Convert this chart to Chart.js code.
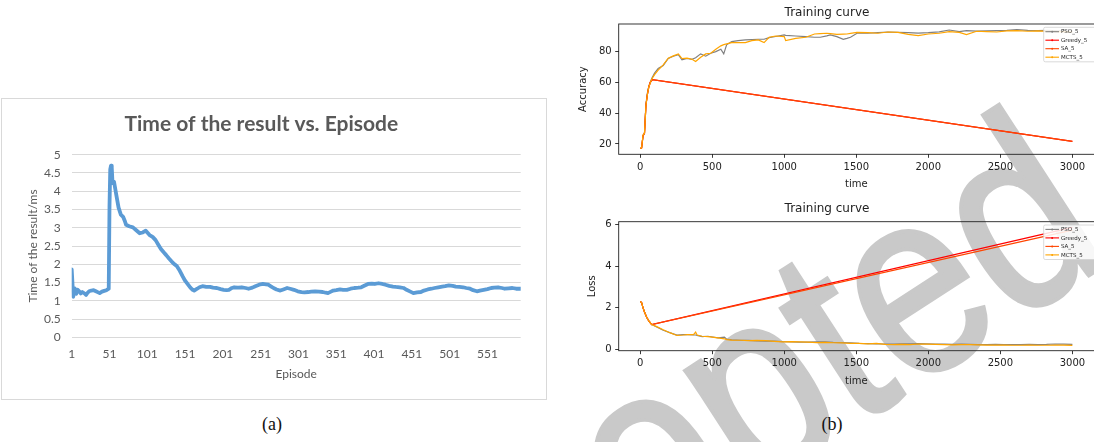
<!DOCTYPE html>
<html><head><meta charset="utf-8">
<script src="https://cdn.jsdelivr.net/npm/chart.js@4.4.0/dist/chart.umd.min.js"></script>
<style>
html,body{margin:0;padding:0;background:#fff;}
body{width:1094px;height:442px;position:relative;overflow:hidden;}
.abs{position:absolute;}
#boxA{left:1px;top:98px;width:544px;height:300px;border:1px solid #d9d9d9;box-sizing:content-box;z-index:1;}
canvas{z-index:2;}
#cA{left:2px;top:99px;}
#cB1{left:560px;top:0px;}
#cB2{left:560px;top:197px;}
.cap{font-family:"Liberation Serif",serif;font-size:18px;color:#111;top:414px;width:40px;text-align:center;z-index:2;}
#wm{left:207px;top:581px;font-family:"Liberation Sans",sans-serif;font-size:265px;line-height:1;white-space:nowrap;color:#c9c9c9;-webkit-text-stroke:4px #c9c9c9;transform:rotate(-33deg) scaleX(0.85);transform-origin:0 0;z-index:0;}
</style></head>
<body>
<div id="wm" class="abs">Accepted</div>
<div id="boxA" class="abs"></div>
<canvas id="cA" class="abs" width="543" height="299"></canvas>
<canvas id="cB1" class="abs" width="534" height="197"></canvas>
<canvas id="cB2" class="abs" width="534" height="198"></canvas>
<div class="abs cap" style="left:252px">(a)</div>
<div class="abs cap" style="left:812px">(b)</div>
<script>
// ---------- Panel (a) ----------
const titleA = "Time of the result vs. Episode";
const episodes = [1,3,5,7,9,11,13,15,18,20,22,24,27,30,33,36,38,41,44,47,50,51,52,53,54,55,57,60,63,66,69,71,73,77,82,86,91,95,99,104,108,112,116,119,123,126,130,133,137,140,144,148,151,155,158,161,163,167,170,174,179,184,188,193,198,202,206,209,213,216,221,226,231,235,240,244,249,254,258,261,265,268,272,277,281,286,290,295,300,305,309,314,318,323,328,333,337,340,344,347,351,356,360,365,370,375,380,384,388,393,398,402,407,412,416,421,426,430,435,440,444,449,453,458,463,467,472,477,481,486,491,495,500,505,509,514,519,523,528,532,537,541,546,551,556,560,565,570,574,579,584,589,595];
const timeMs = [1.86,1.11,1.34,1.19,1.3,1.26,1.2,1.24,1.2,1.16,1.22,1.26,1.28,1.29,1.26,1.23,1.21,1.25,1.27,1.29,1.33,3.58,4.6,4.7,4.65,4.22,4.26,3.9,3.55,3.36,3.3,3.2,3.08,3.04,3.01,2.94,2.85,2.87,2.92,2.8,2.75,2.66,2.52,2.42,2.32,2.25,2.15,2.08,2.0,1.95,1.82,1.66,1.55,1.44,1.36,1.3,1.28,1.33,1.37,1.4,1.38,1.38,1.36,1.35,1.32,1.3,1.29,1.3,1.35,1.37,1.36,1.37,1.35,1.33,1.36,1.4,1.44,1.46,1.45,1.44,1.39,1.35,1.31,1.28,1.31,1.35,1.33,1.3,1.26,1.24,1.23,1.24,1.25,1.26,1.25,1.24,1.22,1.21,1.25,1.28,1.29,1.31,1.3,1.3,1.33,1.35,1.36,1.37,1.41,1.46,1.47,1.46,1.48,1.46,1.44,1.41,1.39,1.38,1.37,1.35,1.3,1.25,1.21,1.23,1.24,1.28,1.31,1.33,1.35,1.37,1.39,1.4,1.42,1.41,1.39,1.38,1.37,1.35,1.33,1.29,1.26,1.28,1.3,1.32,1.35,1.36,1.37,1.35,1.33,1.34,1.35,1.33,1.33];
const episodeTicks = [1,51,101,151,201,251,301,351,401,451,501,551];

// ---------- Panel (b) top: accuracy ----------
const seriesNames = ["PSO_5","Greedy_5","SA_5","MCTS_5"];
const accTime = [1,10,20,30,40,50,60,70,80,100,125,160,195,230,265,290,325,360,385,420,455,490,525,560,580,600,635,680,730,775,820,860,895,940,1000,1010,1080,1150,1210,1250,1295,1320,1365,1410,1435,1460,1505,1580,1650,1720,1790,1860,1930,2000,2075,2145,2215,2265,2335,2405,2475,2545,2615,2690,2760,2830,2900,3000];
const psoAcc = [17,17.5,25,27,46,53,57.5,60,62.5,66,69,71,75.5,77,78,74.6,75.5,75,76,78.5,77,78.9,80,81.5,78.5,84.4,86.5,87.1,87.6,87.8,88,88,89,89.8,90.8,90.5,90.1,89.7,89.3,89.3,90.2,90.8,89.7,88,88.6,89.3,91.9,91.9,92.3,92.7,92.5,92.3,92,92.3,92.8,94,93,93.6,93.3,93.5,93.6,93.8,94.3,93.8,93.6,93.8,93.4,93.4];
const mctsAcc = [17,17.5,26,27,45,52,57,59.5,62,65,68,71.4,75.7,77.2,78.5,75.5,75.7,75,73.5,76.3,78.5,78.9,81.5,83.7,84.5,85,85.8,85.8,85.8,87.1,87.6,85.8,89.3,90.1,89.7,87.1,88.6,89.3,91.4,91.6,91.9,91.7,91.2,91.3,91.4,91.8,92.5,92.3,91.9,92.7,92.5,91.2,90.4,91.4,91.9,93,92.5,91,93.2,93,92.7,93.4,93.6,93.2,93.4,93.2,93,92.7];
const greedyAccTime = [1,10,20,30,40,50,60,70,85,3000];
const greedyAcc = [17,17.5,25.5,27,45,52,57,60,61.8,21.7];
const saAcc = [17,17.5,25.5,27,45,52,57,60,61.8,21.7];
const accTicks = [20,40,60,80];

// ---------- Panel (b) bottom: loss ----------
const lossTime = [1,10,20,30,45,60,80,115,160,210,255,300,330,370,385,395,430,470,540,585,600,635,700,750,810,870,930,990,1050,1105,1165,1225,1285,1340,1400,1460,1520,1580,1640,1700,1760,1815,1875,1930,1990,2050,2110,2170,2230,2290,2345,2405,2465,2525,2585,2640,2700,2760,2820,2880,2940,3000];
const psoLoss = [2.3,2.25,2.0,1.8,1.55,1.38,1.2,1.08,0.93,0.8,0.7,0.72,0.72,0.7,0.7,0.68,0.62,0.64,0.56,0.6,0.5,0.47,0.45,0.44,0.42,0.41,0.41,0.38,0.37,0.36,0.36,0.37,0.37,0.35,0.34,0.32,0.3,0.29,0.28,0.27,0.27,0.28,0.28,0.29,0.28,0.27,0.26,0.25,0.26,0.25,0.24,0.24,0.25,0.24,0.24,0.24,0.25,0.24,0.25,0.27,0.26,0.25];
const mctsLoss = [2.3,2.25,2.0,1.8,1.55,1.38,1.2,1.1,0.95,0.8,0.68,0.7,0.72,0.72,0.84,0.7,0.64,0.62,0.56,0.52,0.48,0.46,0.45,0.43,0.44,0.43,0.40,0.37,0.38,0.37,0.36,0.34,0.35,0.33,0.32,0.30,0.30,0.28,0.30,0.25,0.24,0.25,0.24,0.27,0.26,0.25,0.24,0.23,0.24,0.24,0.23,0.22,0.22,0.22,0.21,0.21,0.22,0.21,0.21,0.22,0.22,0.2];
const greedyLossTime = [1,10,20,30,45,60,80,3000];
const greedyLoss = [2.3,2.25,2.0,1.8,1.55,1.38,1.2,5.85];
const saLoss = [2.3,2.25,2.0,1.8,1.55,1.38,1.2,5.72];
const lossTicks = [0,2,4,6];
const timeTicks = [0,500,1000,1500,2000,2500,3000];

const seriesColors = ["#808080","#ff0000","#ff4500","#ffa500"];
const pts = (xs, ys) => xs.map((x,i)=>({x:x, y:ys[i]}));

// ---------- Chart (a) ----------
const gray = '#595959';
new Chart(document.getElementById('cA'), {
  type:'line',
  data:{datasets:[{data:pts(episodes,timeMs),borderColor:'#5B9BD5',borderWidth:3.8,pointRadius:0,tension:0,borderJoinStyle:'round',borderCapStyle:'round'}]},
  options:{
    responsive:false, animation:false,
    layout:{padding:{left:0,right:24.3,top:0,bottom:0}},
    plugins:{legend:{display:false},tooltip:{enabled:false},
      title:{display:true,text:titleA,color:gray,font:{family:'Lato',size:21,weight:'bold'},padding:{top:12.3,bottom:18.2}}},
    scales:{
      x:{type:'linear',min:1,max:595,
        afterBuildTicks:s=>{s.ticks=episodeTicks.map(v=>({value:v}));},
        afterFit:s=>{s.height=60.7;},
        grid:{display:false,drawTicks:false},border:{display:false},
        ticks:{color:gray,font:{family:'Lato',size:12},padding:9.8,maxRotation:0,autoSkip:false,callback:v=>String(v)},
        title:{display:true,text:'Episode',color:gray,font:{family:'Lato',size:12},padding:{top:0,bottom:16.8}}},
      y:{min:0,max:5,
        ticks:{stepSize:0.5,color:gray,font:{family:'Lato',size:12},padding:11,callback:v=>String(v)},
        afterFit:s=>{s.width=69.7;},
        grid:{color:'#d9d9d9',drawTicks:false,lineWidth:1},border:{display:false},
        title:{display:true,text:'Time of the result/ms',color:gray,font:{family:'Lato',size:12},padding:{top:24.1,bottom:0}}}
    }
  }
});

// ---------- helpers for (b) ----------
const frame = {id:'frame', afterDatasetsDraw(chart){const a=chart.chartArea,c=chart.ctx;c.save();c.strokeStyle='#222';c.lineWidth=0.9;c.strokeRect(a.left,a.top,a.right-a.left+2,a.bottom-a.top);c.restore();}};
const miniLegend = {id:'miniLegend', afterDraw(chart,args,o){
  const a=chart.chartArea,c=chart.ctx;
  const x0=a.right-50.3, y0=a.top+o.dy, w=52, h=34.5;
  c.save();
  c.fillStyle='rgba(255,255,255,0.85)';c.strokeStyle='#d0d0d0';c.lineWidth=0.8;
  c.beginPath();c.roundRect(x0,y0,w,h,1.5);c.fill();c.stroke();
  chart.data.datasets.forEach((ds,i)=>{
    const y=y0+4.4+i*8.5;
    c.strokeStyle=ds.borderColor;c.lineWidth=1.1;
    c.beginPath();c.moveTo(x0+1.7,y);c.lineTo(x0+15.3,y);c.stroke();
    c.fillStyle=ds.borderColor;c.beginPath();c.arc(x0+8.5,y,1,0,Math.PI*2);c.fill();
    c.fillStyle='#222';c.font='5.5px "DejaVu Sans"';c.textBaseline='middle';c.textAlign='left';
    c.fillText(ds.label,x0+17.3,y+0.3);
  });
  c.restore();
}};
const ds = (label,color,data,order)=>({label,data,borderColor:color,backgroundColor:color,borderWidth:1.2,pointRadius:0,tension:0,order});
const axisFont = {family:'DejaVu Sans',size:10};
const ink = '#222';
function bScales(yMin,yMax,yTicks,yLabel,yW,yTitlePad,xH,xTickPad,xTitlePad){
  return {
    x:{type:'linear',min:-149,max:3150,
      afterBuildTicks:s=>{s.ticks=timeTicks.map(v=>({value:v}));},
      afterFit:s=>{s.height=xH;},
      grid:{drawOnChartArea:false,drawTicks:true,tickLength:3.5,tickColor:ink,lineWidth:0.9},border:{display:false},
      ticks:{color:ink,font:axisFont,padding:xTickPad,maxRotation:0,autoSkip:false,callback:v=>String(v)},
      title:{display:true,text:'time',color:ink,font:axisFont,padding:{top:0,bottom:xTitlePad}}},
    y:{min:yMin,max:yMax,
      afterBuildTicks:s=>{s.ticks=yTicks.map(v=>({value:v}));},
      afterFit:s=>{s.width=yW;},
      grid:{drawOnChartArea:false,drawTicks:true,tickLength:3.5,tickColor:ink,lineWidth:0.9},border:{display:false},
      ticks:{color:ink,font:axisFont,padding:3.5,autoSkip:false,callback:v=>String(v)},
      title:{display:true,text:yLabel,color:ink,font:axisFont,padding:{top:yTitlePad,bottom:0}}}
  };
}

new Chart(document.getElementById('cB1'), {
  type:'line',
  data:{datasets:[
    ds(seriesNames[0],seriesColors[0],pts(accTime,psoAcc),4),
    ds(seriesNames[1],seriesColors[1],pts(greedyAccTime,greedyAcc),3),
    ds(seriesNames[2],seriesColors[2],pts(greedyAccTime,saAcc),2),
    ds(seriesNames[3],seriesColors[3],pts(accTime,mctsAcc),1)
  ]},
  options:{responsive:false,animation:false,
    layout:{padding:{left:0,right:0,top:0,bottom:0}},
    plugins:{legend:{display:false},tooltip:{enabled:false},miniLegend:{dy:3.3},
      title:{display:true,text:'Training curve',color:ink,font:{family:'DejaVu Sans',size:12,weight:'normal'},padding:{top:5.5,bottom:4.1}}},
    scales:bScales(13.3,97.9,accTicks,'Accuracy',58.7,17.3,42.7,4,6.7)
  },
  plugins:[frame,miniLegend]
});

new Chart(document.getElementById('cB2'), {
  type:'line',
  data:{datasets:[
    ds(seriesNames[0],seriesColors[0],pts(lossTime,psoLoss),4),
    ds(seriesNames[1],seriesColors[1],pts(greedyLossTime,greedyLoss),3),
    ds(seriesNames[2],seriesColors[2],pts(greedyLossTime,saLoss),2),
    ds(seriesNames[3],seriesColors[3],pts(lossTime,mctsLoss),1)
  ]},
  options:{responsive:false,animation:false,
    layout:{padding:{left:0,right:0,top:0,bottom:0}},
    plugins:{legend:{display:false},tooltip:{enabled:false},miniLegend:{dy:3.3},
      title:{display:true,text:'Training curve',color:ink,font:{family:'DejaVu Sans',size:12,weight:'normal'},padding:{top:4.8,bottom:5.5}}},
    scales:bScales(-0.05,6.12,lossTicks,'Loss',58.7,26.7,44.3,3.6,7.3)
  },
  plugins:[frame,miniLegend]
});
</script>
</body></html>
